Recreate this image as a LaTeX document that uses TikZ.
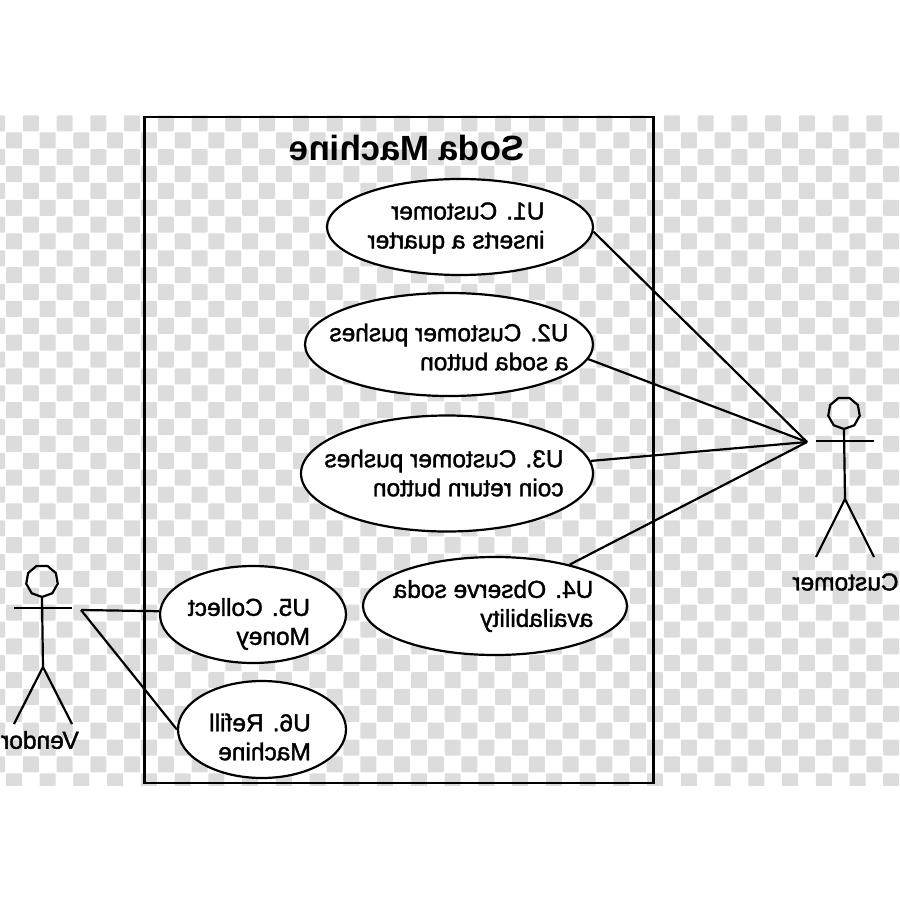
\documentclass[tikz,border=0pt]{standalone}
\usepackage{fontspec}
\setmainfont{Liberation Sans}
\newfontfamily\casefont[FakeBold=1.5]{Liberation Sans}
\usetikzlibrary{shapes.geometric}
\definecolor{checkgray}{HTML}{DCDCDC}
\tikzset{
    usecase/.style = {shape=ellipse, draw, fill=white, line width=2.2pt, inner sep=0pt},
    casetext/.style = {xscale=-1, align=left, font=\casefont\fontsize{24.5}{29}\selectfont},
    actorhead/.style = {shape=regular polygon, regular polygon sides=9, shape border rotate=180,
                draw, line width=2.2pt, minimum size=32pt, inner sep=0pt},
    actorname/.style = {xscale=-1, font=\casefont\fontsize{24.5}{29}\selectfont}
}
\begin{document}
\begin{tikzpicture}[x=1pt, y=-1pt, line width=2.2pt]
    \useasboundingbox (0,0) rectangle (900,900);
    % checkerboard behind everything
    \begin{scope}
        \clip (0,115) rectangle (900,785);
        \foreach \r in {0,...,39} {
            \foreach \c in {-1,...,53} {
                \pgfmathtruncatemacro{\odd}{mod(\r+\c+40,2)}
                \ifnum\odd=1
                    \fill[checkgray, rounded corners=1pt]
                        ({5.6+16.87*\c+0.4},{115+16.87*\r+0.4}) rectangle ++(16,16);
                \fi
            }
        }
    \end{scope}
    \node[draw, line width=2.4pt, minimum width=509pt, minimum height=666pt, inner sep=0pt]
        (machine) at (399,450) {};
    \node[xscale=-1, font=\bfseries\fontsize{35}{35}\selectfont] (title) at (407,148) {Soda Machine};

    % use cases
    \node[usecase, minimum width=266pt, minimum height=96pt] (u1) at (460,227) {};
    \node[usecase, minimum width=288pt, minimum height=103pt] (u2) at (449,344.5) {};
    \node[usecase, minimum width=292pt, minimum height=116pt] (u3) at (447,473.5) {};
    \node[usecase, minimum width=264pt, minimum height=98pt] (u4) at (495,606) {};
    \node[usecase, minimum width=186pt, minimum height=97pt] (u5) at (253,614.5) {};
    \node[usecase, minimum width=168pt, minimum height=97pt] (u6) at (262,729.5) {};

    \node[casetext] (u1text) at (456,228) {U1. Customer\\inserts a quarter};
    \node[casetext] (u2text) at (449,347) {U2. Customer pushes\\a soda button};
    \node[casetext] (u3text) at (444,473) {U3. Customer pushes\\coin return button};
    \node[casetext] (u4text) at (493.5,606) {U4. Observe soda\\availability};
    \node[casetext] (u5text) at (249,624) {U5. Collect\\Money};
    \node[casetext] (u6text) at (260,737) {U6. Refill\\Machine};

    % the two actors
    \node[actorhead] (customerhead) at (844,413) {};
    \coordinate (customerhip) at (845,499);
    \coordinate (customer) at (807,442);
    \draw (customerhead.south) -- (customerhip);
    \draw (816,441) -- (874,441);
    \draw (816,557) -- (customerhip) -- (874,557);
    \node[actorname] (customername) at (845.5,582) {Customer};

    \node[actorhead] (vendorhead) at (42,581) {};
    \coordinate (vendorhip) at (43,667);
    \coordinate (vendor) at (81,610);
    \draw (vendorhead.south) -- (vendorhip);
    \draw (14,608) -- (72,608);
    \draw (14,724) -- (vendorhip) -- (72,724);
    \node[actorname] (vendorname) at (40,740) {Vendor};

    % connectors
    \draw (customer) -- (u1.-2);
    \draw (customer) -- (u2.-6);
    \draw (customer) -- (u3.5);
    \draw (customer) -- (u4.29.4);
    \draw (vendor) -- (u5.178);
    \draw (vendor) -- (u6.west);
\end{tikzpicture}
\end{document}
